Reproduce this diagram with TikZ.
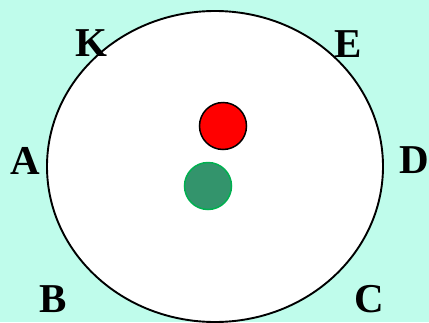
\documentclass[tikz,border=0pt]{standalone}
\usepackage{fontspec}
\setmainfont{Liberation Serif}
\usepackage{tikz}

\definecolor{bgcyan}{RGB}{191,252,235}
\definecolor{ballgreen}{RGB}{51,148,108}
\definecolor{rimgreen}{RGB}{0,176,80}

\tikzset{
  pt label/.style={inner sep=0pt, font=\fontsize{41}{45}\selectfont\bfseries}
}

\begin{document}
\begin{tikzpicture}[x=1pt,y=-1pt]
  \def\rx{168pt}
  \def\ry{155.5pt}

  % background
  \fill[bgcyan] (0,0) rectangle (429,322);
  \useasboundingbox (0,0) rectangle (429,322);

  % big ellipse
  \coordinate (O) at (215,166.5);
  \draw[line width=1.9pt, fill=white] (O) ellipse [x radius=\rx, y radius=\ry];

  % the two balls
  \coordinate (R) at (223,126);
  \coordinate (G) at (208,186);
  \draw[line width=1.5pt, fill=red] (R) circle (23.5pt);
  \draw[line width=1.5pt, draw=rimgreen, fill=ballgreen] (G) circle (23.5pt);

  % points round the rim
  \node[pt label] (K) at (91,43) {K};
  \node[pt label] (E) at (348,44) {E};
  \node[pt label] (A) at (25,161) {A};
  \node[pt label] (D) at (414,160) {D};
  \node[pt label] (B) at (53,299) {B};
  \node[pt label] (C) at (369,299) {C};
\end{tikzpicture}
\end{document}
